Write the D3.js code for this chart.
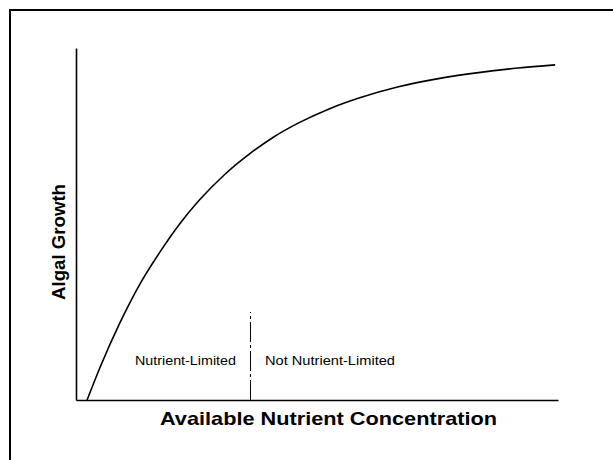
<!DOCTYPE html>
<html>
<head>
<meta charset="utf-8">
<script src="https://cdn.jsdelivr.net/npm/d3@7"></script>
<style>
  body { margin: 0; background: #fff; }
  svg { display: block; font-family: "Liberation Sans", Arial, sans-serif; }
</style>
</head>
<body>
<div id="viz"></div>
<script>
// nutrient concentration (relative units) vs algal growth (relative units)
var nutrient = [2.3, 5, 9.1, 13.2, 17.4, 21.5, 25.6, 30.8, 36, 41.1, 46.3, 52.5, 58.7, 66.9, 75.2, 83.5, 91.7, 99.4]
var growth   = [0, 9.3, 21.9, 32.8, 42.0, 50.0, 56.8, 64.0, 69.9, 74.8, 78.8, 82.7, 85.8, 89.0, 91.3, 93.0, 94.3, 95.2]
var threshold = 36.2
var thresholdTop = 25
var regionLabels = ["Nutrient-Limited", "Not Nutrient-Limited"]
var xTitle = "Available Nutrient Concentration"
var yTitle = "Algal Growth"

var width = 613,
  height = 460,
  margin = {top: 48, right: 55, bottom: 60, left: 76}

var svg = d3.select("#viz").append("svg")
  .attr("width", width)
  .attr("height", height)

// frame round the figure, cut off at the right and bottom
svg.append("rect")
  .attr("x", 10).attr("y", 10)
  .attr("width", 640).attr("height", 480)
  .attr("fill", "none")
  .attr("stroke", "#000")
  .attr("stroke-width", 2)

var x = d3.scaleLinear().domain([0, 100]).range([margin.left, width - margin.right])
var y = d3.scaleLinear().domain([0, 100]).range([height - margin.bottom, margin.top])

var data = nutrient.map(function(d, i) { return {x: d, y: growth[i]} })

// axes, no ticks
svg.append("g")
  .attr("transform", "translate(0," + y(0) + ")")
  .call(d3.axisBottom(x).ticks(0).tickSize(0).tickSizeOuter(0))
  .call(function(g) { g.select(".domain").attr("stroke-width", 1.6) })

svg.append("g")
  .attr("transform", "translate(" + x(0) + ",0)")
  .call(d3.axisLeft(y).ticks(0).tickSize(0).tickSizeOuter(0))
  .call(function(g) { g.select(".domain").attr("stroke-width", 1.6) })

var line = d3.line()
  .x(function(d) { return x(d.x) })
  .y(function(d) { return y(d.y) })
  .curve(d3.curveMonotoneX)

svg.append("path")
  .datum(data)
  .attr("d", line)
  .attr("fill", "none")
  .attr("stroke", "#000")
  .attr("stroke-width", 1.6)

// dash-dot divider
svg.append("line")
  .attr("x1", x(threshold)).attr("x2", x(threshold))
  .attr("y1", y(0)).attr("y2", y(thresholdTop))
  .attr("stroke", "#000")
  .attr("stroke-width", 1)
  .attr("stroke-dasharray", "20,3,3,3")

svg.append("text")
  .attr("x", 135).attr("y", 365)
  .attr("font-size", 13)
  .attr("textLength", 101)
  .attr("lengthAdjust", "spacingAndGlyphs")
  .text(regionLabels[0])

svg.append("text")
  .attr("x", 265).attr("y", 365)
  .attr("font-size", 13)
  .attr("textLength", 130)
  .attr("lengthAdjust", "spacingAndGlyphs")
  .text(regionLabels[1])

svg.append("text")
  .attr("x", 160).attr("y", 425)
  .attr("font-size", 19)
  .attr("font-weight", "bold")
  .attr("textLength", 337)
  .attr("lengthAdjust", "spacingAndGlyphs")
  .text(xTitle)

svg.append("text")
  .attr("transform", "translate(65,300) rotate(-90)")
  .attr("font-size", 19)
  .attr("font-weight", "bold")
  .attr("textLength", 116)
  .attr("lengthAdjust", "spacingAndGlyphs")
  .text(yTitle)
</script>
</body>
</html>
